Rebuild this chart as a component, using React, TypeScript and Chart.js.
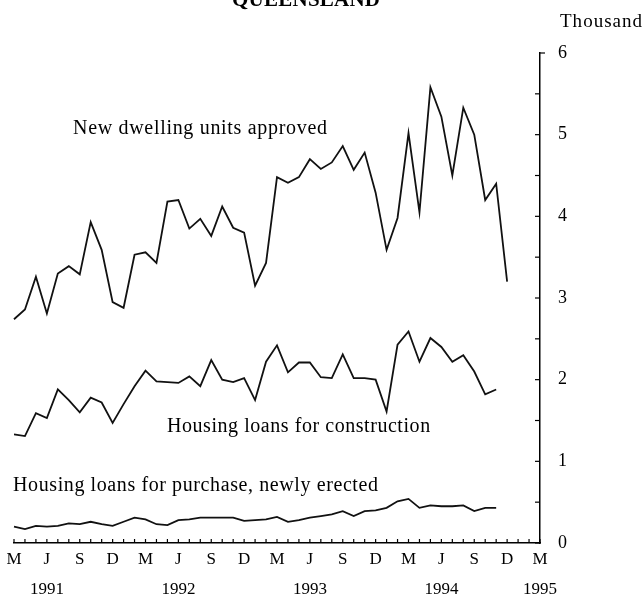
import { useEffect, useRef } from 'react';
import { Chart, registerables } from 'chart.js';

Chart.register(...registerables);

// Monthly categories, March 1991 to March 1995
const months = [
  'Mar 1991', 'Apr 1991', 'May 1991', 'Jun 1991', 'Jul 1991', 'Aug 1991', 'Sep 1991', 'Oct 1991', 'Nov 1991', 'Dec 1991',
  'Jan 1992', 'Feb 1992', 'Mar 1992', 'Apr 1992', 'May 1992', 'Jun 1992', 'Jul 1992', 'Aug 1992', 'Sep 1992', 'Oct 1992', 'Nov 1992', 'Dec 1992',
  'Jan 1993', 'Feb 1993', 'Mar 1993', 'Apr 1993', 'May 1993', 'Jun 1993', 'Jul 1993', 'Aug 1993', 'Sep 1993', 'Oct 1993', 'Nov 1993', 'Dec 1993',
  'Jan 1994', 'Feb 1994', 'Mar 1994', 'Apr 1994', 'May 1994', 'Jun 1994', 'Jul 1994', 'Aug 1994', 'Sep 1994', 'Oct 1994', 'Nov 1994', 'Dec 1994',
  'Jan 1995', 'Feb 1995', 'Mar 1995',
];

// Quarterly tick labels (every third month)
const quarterLetters = ['M', 'J', 'S', 'D', 'M', 'J', 'S', 'D', 'M', 'J', 'S', 'D', 'M', 'J', 'S', 'D', 'M'];
const yearLabels = ['', '1991', '', '', '', '1992', '', '', '', '1993', '', '', '', '1994', '', '', '1995'];

// Thousand
const dwellingUnits = [
  2.74, 2.86, 3.26, 2.81, 3.30, 3.39, 3.29, 3.93, 3.59, 2.95,
  2.88, 3.53, 3.56, 3.43, 4.18, 4.20, 3.85, 3.97, 3.76, 4.12, 3.86, 3.80,
  3.15, 3.43, 4.48, 4.41, 4.48, 4.70, 4.58, 4.66, 4.86, 4.57, 4.78, 4.29,
  3.59, 3.98, 5.02, 4.05, 5.58, 5.22, 4.50, 5.33, 5.00, 4.20, 4.40, 3.20,
];
const loansConstruction = [
  1.33, 1.31, 1.59, 1.53, 1.88, 1.75, 1.60, 1.78, 1.72, 1.47,
  1.70, 1.92, 2.11, 1.98, 1.97, 1.96, 2.04, 1.92, 2.24, 2.00, 1.97, 2.02,
  1.75, 2.22, 2.42, 2.09, 2.21, 2.21, 2.03, 2.02, 2.31, 2.02, 2.02, 2.00,
  1.61, 2.43, 2.59, 2.22, 2.51, 2.40, 2.22, 2.30, 2.10, 1.82, 1.88,
];
const loansPurchase = [
  0.20, 0.17, 0.21, 0.20, 0.21, 0.24, 0.23, 0.26, 0.23, 0.21,
  0.26, 0.31, 0.29, 0.23, 0.22, 0.28, 0.29, 0.31, 0.31, 0.31, 0.31, 0.27,
  0.28, 0.29, 0.32, 0.26, 0.28, 0.31, 0.33, 0.35, 0.39, 0.33, 0.39, 0.40,
  0.43, 0.51, 0.54, 0.43, 0.46, 0.45, 0.45, 0.46, 0.39, 0.43, 0.43,
];

const FONT = "'Liberation Serif', 'DejaVu Serif', serif";

function fitText(ctx: CanvasRenderingContext2D, text: string, x: number, y: number, w: number) {
  const c = ctx as any;
  c.letterSpacing = '0px';
  const m = ctx.measureText(text).width;
  const sp = (w - m) / Math.max(1, text.length - 1);
  c.letterSpacing = sp.toFixed(2) + 'px';
  ctx.fillText(text, x, y);
  c.letterSpacing = '0px';
}

const decorPlugin = {
  id: 'decor',
  afterDraw(chart: any) {
    const { ctx, scales } = chart;
    const x = scales.x;
    const y = scales.y;
    ctx.save();
    ctx.strokeStyle = '#000';
    ctx.lineWidth = 1.2;
    // inward tick marks on the x axis (each month)
    x.ticks.forEach((_t: any, i: number) => {
      const px = x.getPixelForTick(i);
      ctx.beginPath();
      ctx.moveTo(px, x.top);
      ctx.lineTo(px, x.top - 4);
      ctx.stroke();
    });
    // tick marks on the y axis
    y.ticks.forEach((t: any, i: number) => {
      const py = y.getPixelForTick(i);
      const dir = t.value === y.max ? 1 : -1;
      ctx.beginPath();
      ctx.moveTo(y.left, py);
      ctx.lineTo(y.left + dir * 5, py);
      ctx.stroke();
    });

    ctx.fillStyle = '#000';
    ctx.textBaseline = 'alphabetic';
    ctx.textAlign = 'left';
    // title (cut off at top in the reference)
    ctx.font = `bold 21px ${FONT}`;
    fitText(ctx, 'QUEENSLAND', 232, 6, 148);
    // unit
    ctx.font = `19px ${FONT}`;
    fitText(ctx, 'Thousand', 560, 27, 82);
    // series labels
    ctx.font = `20px ${FONT}`;
    fitText(ctx, 'New dwelling units approved', 73, 134, 254);
    fitText(ctx, 'Housing loans for construction', 167, 432, 263);
    fitText(ctx, 'Housing loans for purchase, newly erected', 13, 491, 365);
    ctx.restore();
  },
};

export default function App() {
  const ref = useRef<HTMLCanvasElement | null>(null);

  useEffect(() => {
    if (!ref.current) return;
    const line = (data: number[]) => ({
      data,
      borderColor: '#111',
      borderWidth: 1.8,
      pointRadius: 0,
      tension: 0,
      fill: false,
    });
    const chart = new Chart(ref.current, {
      type: 'line',
      data: {
        labels: months,
        datasets: [
          { label: 'New dwelling units approved', ...line(dwellingUnits) },
          { label: 'Housing loans for construction', ...line(loansConstruction) },
          { label: 'Housing loans for purchase, newly erected', ...line(loansPurchase) },
        ],
      },
      options: {
        responsive: false,
        animation: false,
        devicePixelRatio: 1,
        layout: { padding: { left: 14, right: 43, top: 53, bottom: 0 } },
        plugins: {
          legend: { display: false },
          tooltip: { enabled: false },
          title: { display: false },
        },
        scales: {
          x: {
            type: 'category',
            offset: false,
            grid: { display: false, drawTicks: false },
            border: { display: true, color: '#000', width: 1.5 },
            ticks: {
              autoSkip: false,
              maxRotation: 0,
              minRotation: 0,
              padding: 1,
              color: '#000',
              font: { family: FONT, size: 17, lineHeight: 1.8 },
              callback: (_v: any, i: number) =>
                i % 3 === 0 ? [quarterLetters[i / 3], yearLabels[i / 3]] : '',
            },
            afterFit: (s: any) => {
              s.height = 59;
            },
          },
          y: {
            position: 'right',
            min: 0,
            max: 6,
            grid: { display: false, drawTicks: false },
            border: { display: true, color: '#000', width: 1.5 },
            ticks: {
              stepSize: 0.5,
              padding: 18,
              color: '#000',
              font: { family: FONT, size: 18 },
              callback: (v: any) => (Number.isInteger(v) ? String(v) : ''),
            },
            afterFit: (s: any) => {
              s.width = 60;
            },
          },
        },
      } as any,
      plugins: [decorPlugin],
    });
    return () => chart.destroy();
  }, []);

  return (
    <div style={{ position: 'absolute', left: 0, top: 0, width: 643, height: 602, background: '#fff', overflow: 'hidden' }}>
      <canvas ref={ref} width={643} height={602} style={{ display: 'block' }} />
    </div>
  );
}
